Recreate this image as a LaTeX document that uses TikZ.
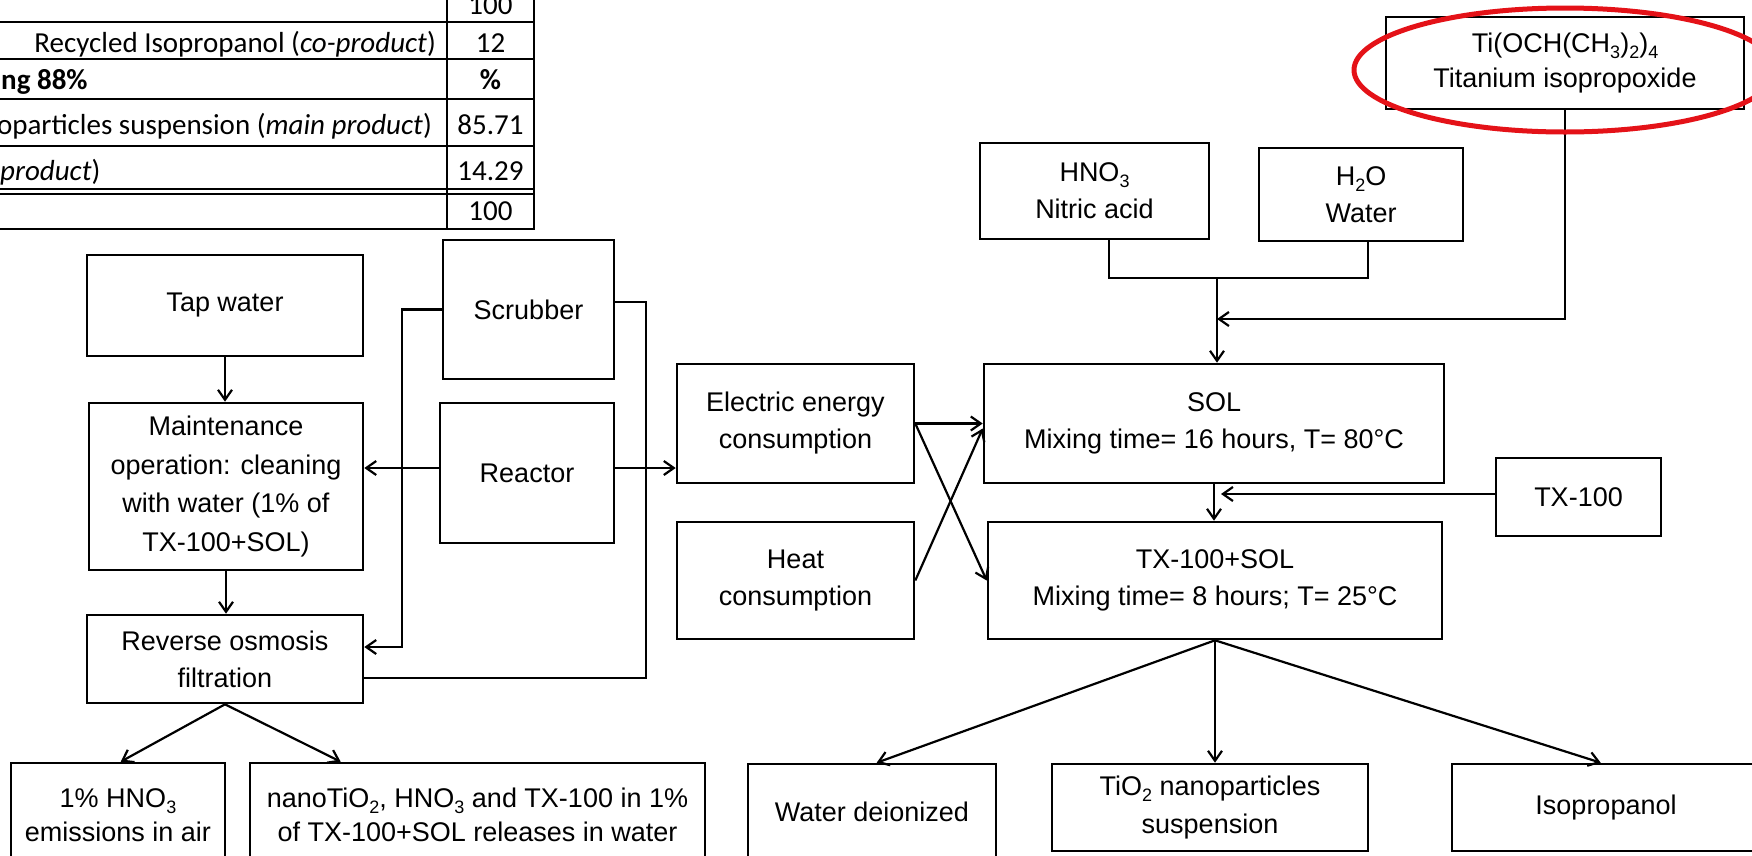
\documentclass[tikz,border=0pt]{standalone}
\usepackage{fontspec}
\setmainfont{Liberation Sans}
\newfontfamily\tabfont{Carlito}
\usetikzlibrary{arrows.meta}
\definecolor{markred}{RGB}{228,18,24}
\newcommand{\sbs}[1]{\raisebox{-0.22em}{\fontsize{18}{18}\selectfont #1}}
\begin{document}
\begin{tikzpicture}[x=1pt,y=-1pt,
  bx/.style={draw, line width=2.6pt, inner sep=0pt, align=center, font=\fontsize{27}{37}\selectfont},
  conn/.style={line width=2.2pt},
  arr/.style={conn, -{Straight Barb[length=10pt,width=14pt]}},
  tline/.style={line width=2.8pt},
  tt/.style={inner sep=0pt, font=\tabfont\fontsize{29}{35}\selectfont}
]
\useasboundingbox (0,0) rectangle (1752,855);
\clip (0,0) rectangle (1752,855);

% ---------- table ----------
\draw[tline] (447,0) -- (447,229);
\draw[tline] (534,0) -- (534,229) -- (0,229);
\draw[tline] (0,22) -- (534,22);
\draw[tline] (0,59) -- (534,59);
\draw[tline] (0,99) -- (534,99);
\draw[line width=2pt] (0,146) -- (534,146);
\draw[line width=1.5pt] (0,189) -- (534,189);
\draw[line width=1.5pt] (0,194) -- (534,194);

\node[tt, anchor=base] (t0) at (490.5,14) {100};
\node[tt, anchor=base east] (t1) at (436,52) {Recycled Isopropanol (\textit{co-product})};
\node[tt, anchor=base] (t2) at (490.5,52) {12};
\node[tt, anchor=base west] (t3) at (1,89) {\textbf{ng 88\%}};
\node[tt, anchor=base] (t4) at (490.5,89) {\textbf{\%}};
\node[tt, anchor=base east] (t5) at (432,134) {oparticles suspension (\textit{main product})};
\node[tt, anchor=base] (t6) at (490.5,134) {85.71};
\node[tt, anchor=base west] (t7) at (0,180) {\textit{product})};
\node[tt, anchor=base] (t8) at (490.5,180) {14.29};
\node[tt, anchor=base] (t9) at (490.5,220) {100};

% ---------- boxes ----------
\node[bx, minimum width=276pt, minimum height=101pt] (tap) at (225,305.5) {Tap water};
\node[bx, minimum width=274pt, minimum height=167pt, font=\fontsize{27}{38.5}\selectfont] (maint) at (226,486.5) {Maintenance\\operation: cleaning\\with water (1\% of\\TX-100+SOL)};
\node[bx, minimum width=276pt, minimum height=88pt] (ro) at (225,659) {Reverse osmosis\\filtration};
\node[bx, minimum width=171pt, minimum height=139pt] (scrub) at (528.5,309.5) {Scrubber};
\node[bx, minimum width=174pt, minimum height=140pt] (reactor) at (527,473) {Reactor};
\node[bx, minimum width=237pt, minimum height=119pt] (elec) at (795.5,423.5) {Electric energy\\consumption};
\node[bx, minimum width=237pt, minimum height=117pt] (heat) at (795.5,580.5) {Heat\\consumption};
\node[bx, minimum width=460pt, minimum height=119pt] (sol) at (1214,423.5) {SOL\\Mixing time= 16 hours, T= 80°C};
\node[bx, minimum width=454pt, minimum height=117pt] (txsol) at (1215,580.5) {TX-100+SOL\\Mixing time= 8 hours; T= 25°C};
\node[bx, minimum width=165pt, minimum height=78pt] (tx100) at (1578.5,497) {TX-100};
\node[bx, minimum width=229pt, minimum height=96pt] (hno3) at (1094.5,191) {HNO\sbs{3}\\Nitric acid};
\node[bx, minimum width=204pt, minimum height=93pt] (h2o) at (1361,194.5) {H\sbs{2}O\\Water};
\node[bx, minimum width=358pt, minimum height=92pt, font=\fontsize{27}{35}\selectfont] (ti) at (1565,63) {Ti(OCH(CH\sbs{3})\sbs{2})\sbs{4}\\Titanium isopropoxide};
\node[bx, minimum width=214pt, minimum height=104pt, font=\fontsize{27}{34}\selectfont] (emis) at (118,815) {1\% HNO\sbs{3}\\emissions in air};
\node[bx, minimum width=455pt, minimum height=104pt, font=\fontsize{27}{34}\selectfont] (nano) at (477.5,815) {nanoTiO\sbs{2}, HNO\sbs{3} and TX-100 in 1\%\\of TX-100+SOL releases in water};
\node[bx, minimum width=248pt, minimum height=96pt] (wd) at (872,812) {Water deionized};
\node[bx, minimum width=316pt, minimum height=87pt, font=\fontsize{27}{38}\selectfont] (tio2) at (1210,807.5) {TiO\sbs{2} nanoparticles\\suspension};
\node[bx, minimum width=308pt, minimum height=87pt] (iso) at (1606,807.5) {Isopropanol};

% ---------- helper coordinates ----------
\coordinate (jn) at (1217,278);
\coordinate (tj) at (1217,319);
\coordinate (txin) at (1221,494);
\coordinate (rl) at ([yshift=5pt]reactor.west);
\coordinate (rr) at ([yshift=5pt]reactor.east);

% ---------- connectors ----------
\draw[arr] (tap.south) -- (tap.south |- maint.north);
\draw[arr] (maint.south) -- (maint.south |- ro.north);
\draw[arr] (scrub.west) -- ++(-40,0) |- ([yshift=12pt]ro.east);
\draw[conn] ([yshift=7.5pt]scrub.east) -- ++(31,0) |- ([yshift=-19pt]ro.east);
\draw[arr] (rl) -- (rl -| maint.east);
\draw[arr] (rr) -- (rr -| elec.west);
\draw[arr] (ro.south) -- ([xshift=111pt]emis.north west);
\draw[arr] (ro.south) -- ([xshift=92pt]nano.north west);

\draw[arr] (elec.east) -- (sol.west);
\draw[arr] (heat.east) -- ([yshift=-5pt]sol.west);
\draw[arr] (elec.east) -- (txsol.west);

\draw[conn] ([xshift=14.5pt]hno3.south) |- (jn) -| ([xshift=7pt]h2o.south);
\draw[arr] (jn) -- (jn |- sol.north);
\draw[arr] (ti.south) |- (tj);
\draw[arr] (tx100.west |- txin) -- (txin);
\draw[arr] (sol.south) -- (sol.south |- txsol.north);
\draw[arr] (txsol.south) -- ([xshift=130pt]wd.north west);
\draw[arr] (txsol.south) -- (txsol.south |- tio2.north);
\draw[arr] (txsol.south) -- ([xshift=150pt]iso.north west);

% ---------- red highlight ----------
\draw[markred, line width=5pt] (1565,70) ellipse [x radius=211pt, y radius=62pt];
\end{tikzpicture}
\end{document}
